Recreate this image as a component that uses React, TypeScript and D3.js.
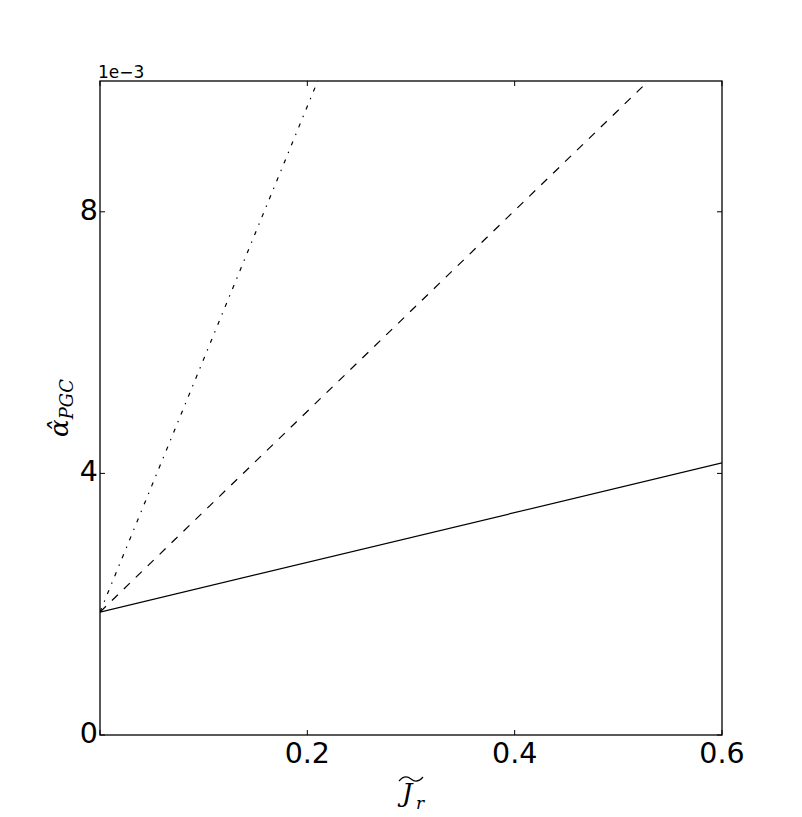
import React from "react";
import { scaleLinear, line } from "d3";

// curves: x = J_r, y = alpha_PGC (units of 1e-3)
const solidLine = [
  { x: 0, y: 1.88 },
  { x: 0.6, y: 4.16 }
];
const dashedLine = [
  { x: 0, y: 1.88 },
  { x: 0.529, y: 10.0 }
];
const dashDotLine = [
  { x: 0, y: 1.88 },
  { x: 0.21, y: 10.0 }
];

const xTicks = [0, 0.2, 0.4, 0.6];
const xTickLabels = ["", "0.2", "0.4", "0.6"];
const yTicks = [0, 4, 8];
const yTickLabels = ["0", "4", "8"];

export default function App() {
  const width = 802,
    height = 817;
  const margin = { top: 81, right: 80, bottom: 82, left: 100 };
  const innerWidth = width - margin.left - margin.right;
  const innerHeight = height - margin.top - margin.bottom;

  const xScale = scaleLinear().domain([0, 0.6]).range([0, innerWidth]);
  const yScale = scaleLinear().domain([0, 10]).range([innerHeight, 0]);

  const lineGen = line<{ x: number; y: number }>()
    .x(d => xScale(d.x))
    .y(d => yScale(d.y));

  const tickLen = 5;
  const sans = "DejaVu Sans, sans-serif";
  const serif = "DejaVu Serif, serif";

  return (
    <svg
      width={width}
      height={height}
      style={{ position: "absolute", left: 0, top: 0, background: "#fff" }}
    >
      <defs>
        <clipPath id="plot-clip">
          <rect x={0} y={0} width={innerWidth} height={innerHeight} />
        </clipPath>
      </defs>
      <g transform={`translate(${margin.left}, ${margin.top})`}>
        <g clipPath="url(#plot-clip)" fill="none" stroke="#000" strokeWidth={1.2}>
          <path d={lineGen(solidLine) || ""} />
          <path d={lineGen(dashedLine) || ""} strokeDasharray="8.3,8.3" />
          <path d={lineGen(dashDotLine) || ""} strokeDasharray="4.2,6.9,1.4,6.9" />
        </g>

        {/* ticks, inward on all four sides */}
        <g stroke="#000" strokeWidth={1}>
          {xTicks.map(t => (
            <g key={"xt" + t}>
              <line x1={xScale(t)} x2={xScale(t)} y1={innerHeight} y2={innerHeight - tickLen} />
              <line x1={xScale(t)} x2={xScale(t)} y1={0} y2={tickLen} />
            </g>
          ))}
          {yTicks.map(t => (
            <g key={"yt" + t}>
              <line x1={0} x2={tickLen} y1={yScale(t)} y2={yScale(t)} />
              <line x1={innerWidth} x2={innerWidth - tickLen} y1={yScale(t)} y2={yScale(t)} />
            </g>
          ))}
        </g>

        <rect
          x={0}
          y={0}
          width={innerWidth}
          height={innerHeight}
          fill="none"
          stroke="#000"
          strokeWidth={1.3}
        />

        {xTicks.map((t, i) => (
          <text
            key={"xl" + t}
            x={xScale(t)}
            y={innerHeight + 28}
            textAnchor="middle"
            fontFamily={sans}
            fontSize={28.5}
          >
            {xTickLabels[i]}
          </text>
        ))}
        {yTicks.map((t, i) => (
          <text
            key={"yl" + t}
            x={-2}
            y={yScale(t) + 8}
            textAnchor="end"
            fontFamily={sans}
            fontSize={28.5}
          >
            {yTickLabels[i]}
          </text>
        ))}
        <text x={-2} y={-3} fontFamily={sans} fontSize={17}>
          1e−3
        </text>

        {/* x axis label: J tilde sub r */}
        <g transform={`translate(${innerWidth / 2}, ${innerHeight + 67})`}>
          <path
            d="M -12 -21 Q -6 -28 0 -23 Q 6 -18 12 -25"
            fill="none"
            stroke="#000"
            strokeWidth={1.2}
          />
          <text x={-9} y={0} fontFamily={serif} fontStyle="italic" fontSize={26}>
            J
          </text>
          <text x={5} y={7} fontFamily={serif} fontStyle="italic" fontSize={17}>
            r
          </text>
        </g>

        {/* y axis label: alpha hat sub PGC */}
        <g transform={`translate(${-32}, ${innerHeight / 2}) rotate(-90)`}>
          <text
            x={0}
            y={0}
            textAnchor="middle"
            fontFamily={serif}
            fontStyle="italic"
            fontSize={26}
          >
            α̂
            <tspan fontSize={18} dy={5}>
              PGC
            </tspan>
          </text>
        </g>
      </g>
    </svg>
  );
}
